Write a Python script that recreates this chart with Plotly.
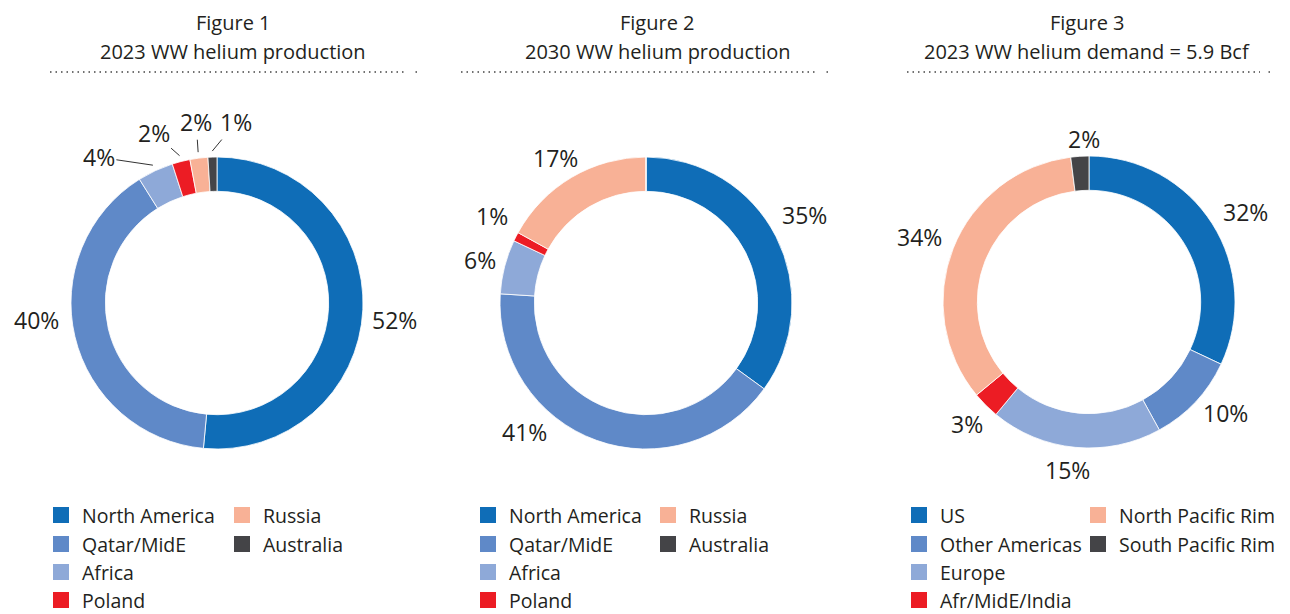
import math
import plotly.graph_objects as go

W, H = 1290, 614

# ---------------- data ----------------
fig1_title = ["Figure 1", "2023 WW helium production"]
fig1_labels = ["North America", "Qatar/MidE", "Africa", "Poland", "Russia", "Australia"]
fig1_values = [52, 40, 4, 2, 2, 1]
fig1_text = ["52%", "40%", "4%", "2%", "2%", "1%"]

fig2_title = ["Figure 2", "2030 WW helium production"]
fig2_labels = ["North America", "Qatar/MidE", "Africa", "Poland", "Russia", "Australia"]
fig2_values = [35, 41, 6, 1, 17, 0]
fig2_text = ["35%", "41%", "6%", "1%", "17%", ""]

fig3_title = ["Figure 3", "2023 WW helium demand = 5.9 Bcf"]
fig3_labels = ["US", "Other Americas", "Europe", "Afr/MidE/India", "North Pacific Rim", "South Pacific Rim"]
fig3_values = [32, 10, 19, 3, 34, 2]
fig3_text = ["32%", "10%", "15%", "3%", "34%", "2%"]

colors = ["#0F6DB7", "#5F89C8", "#8EA9D8", "#EC1C24", "#F8B196", "#444447"]

# ---------------- styling / layout ----------------
FONT = "Open Sans"
TXT = "#231F20"
R_OUT = 146
R_LBL = 178
HOLE = 0.765
centers = [(217, 303), (646, 303), (1089, 302)]
title_cx = [233, 658, 1087]
dots_x = [(50, 417), (461, 828), (907, 1270)]
legend_left = [53, 480, 911]
legend_col2 = [234, 660, 1090]
legend_row_y = [515, 544, 572, 600]

# label nudges (px) for labels placed at mid angle; None = arrow label
label_nudge = [
    [(0, 9), (-7, -24), None, None, None, None],
    [(0, -7), (-61, -38), (6, 1), (5, -6), (0, 8), (0, 0)],
    [(6, 5), (7, -11), (-5, -9), (4, -4), (-4, 1), (6, 15)],
]
# arrow label offsets for figure 1 small slices (text offset from slice edge)
arrow_off = {2: (-54, -8), 3: (-26, -23), 4: (-2, -30), 5: (24, -29)}

figs = [
    (fig1_title, fig1_labels, fig1_values, fig1_text),
    (fig2_title, fig2_labels, fig2_values, fig2_text),
    (fig3_title, fig3_labels, fig3_values, fig3_text),
]

fig = go.Figure()
annotations = []
shapes = []


def px_x(px):
    return px / W


def px_y(py):
    return 1 - py / H


for i, (title, labels, values, texts) in enumerate(figs):
    cx, cy = centers[i]
    fig.add_trace(go.Pie(
        labels=labels, values=values, hole=HOLE, sort=False, direction="clockwise",
        rotation=0, textinfo="none", hoverinfo="label+percent", showlegend=False,
        marker=dict(colors=colors, line=dict(color="white", width=0.8)),
        domain=dict(x=[(cx - R_OUT) / W, (cx + R_OUT) / W],
                    y=[(H - cy - R_OUT) / H, (H - cy + R_OUT) / H]),
    ))
    total = sum(values)
    cum = 0
    for j, (v, t) in enumerate(zip(values, texts)):
        mid = (cum + v / 2) / total
        cum += v
        if not t:
            continue
        th = 2 * math.pi * mid
        nud = label_nudge[i][j]
        if nud is None:
            ex = cx + (R_OUT + 6) * math.sin(th)
            ey = cy - (R_OUT + 6) * math.cos(th)
            ax, ay = arrow_off[j]
            annotations.append(dict(
                x=px_x(ex), y=px_y(ey), xref="paper", yref="paper", text=t,
                showarrow=True, arrowhead=0, arrowwidth=1, arrowcolor="#333333",
                ax=ax, ay=ay, standoff=0,
                font=dict(family=FONT, size=23, color=TXT)))
        else:
            lx = cx + R_LBL * math.sin(th) + nud[0]
            ly = cy - R_LBL * math.cos(th) + nud[1]
            annotations.append(dict(
                x=px_x(lx), y=px_y(ly), xref="paper", yref="paper", text=t,
                showarrow=False, xanchor="center", yanchor="middle",
                font=dict(family=FONT, size=23, color=TXT)))
    # titles
    for line, yy in zip(title, [22, 51]):
        annotations.append(dict(
            x=px_x(title_cx[i]), y=px_y(yy), xref="paper", yref="paper", text=line,
            showarrow=False, xanchor="center", yanchor="middle",
            font=dict(family=FONT, size=20, color=TXT)))
    # dotted rule
    x0, x1 = dots_x[i]
    yl = px_y(72)
    shapes.append(dict(type="line", xref="paper", yref="paper",
                       x0=px_x(x0), x1=px_x(x1 - 10), y0=yl, y1=yl,
                       line=dict(color="#444444", width=1.5, dash="1.5px,4px")))
    shapes.append(dict(type="line", xref="paper", yref="paper",
                       x0=px_x(x1 - 1.5), x1=px_x(x1), y0=yl, y1=yl,
                       line=dict(color="#444444", width=1.5)))

    # legend: two columns, column-major (4 + 2)
    for j, (lab, col) in enumerate(zip(labels, colors)):
        left = legend_left[i] if j < 4 else legend_col2[i]
        ry = legend_row_y[j if j < 4 else j - 4]
        shapes.append(dict(type="rect", xref="paper", yref="paper",
                           x0=px_x(left), x1=px_x(left + 16),
                           y0=px_y(ry + 8), y1=px_y(ry - 8),
                           fillcolor=col, line=dict(width=0)))
        annotations.append(dict(
            x=px_x(left + 28), y=px_y(ry), xref="paper", yref="paper", text=lab,
            showarrow=False, xanchor="left", yanchor="middle", borderpad=0,
            font=dict(family=FONT, size=19.5, color=TXT)))

fig.update_layout(
    width=W, height=H, autosize=False,
    margin=dict(l=0, r=0, t=0, b=0),
    paper_bgcolor="white", plot_bgcolor="white",
    annotations=annotations, shapes=shapes,
    font=dict(family=FONT, color=TXT),
    showlegend=False,
)

fig.write_html(
    "out.html",
    config={"displayModeBar": False},
    post_script="document.body.style.margin='0';document.body.style.overflow='hidden';",
)
